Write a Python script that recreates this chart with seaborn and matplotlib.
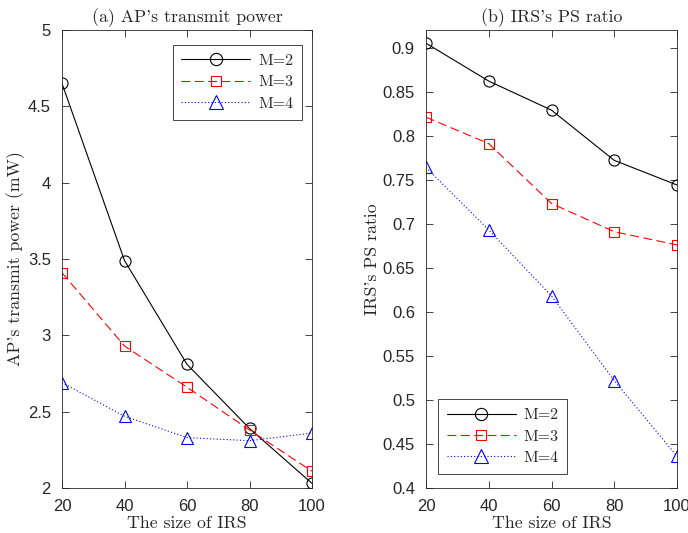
import numpy as np
import pandas as pd
import seaborn as sns
import matplotlib.pyplot as plt

irs_size = [20, 40, 60, 80, 100]
labels = ['M=2', 'M=3', 'M=4']

# (a) AP's transmit power (mW)
power_m2 = [4.65, 3.49, 2.81, 2.39, 2.03]
power_m3 = [3.41, 2.93, 2.66, 2.38, 2.11]
power_m4 = [2.69, 2.47, 2.33, 2.31, 2.36]

# (b) IRS's PS ratio
ratio_m2 = [0.905, 0.862, 0.829, 0.772, 0.744]
ratio_m3 = [0.821, 0.791, 0.723, 0.691, 0.676]
ratio_m4 = [0.764, 0.693, 0.618, 0.522, 0.436]

colors = ['black', 'red', 'blue']
markers = ['o', 's', '^']
msizes = [8, 7, 9]
linestyles = ['-', (0, (8, 4)), (0, (1, 2))]

sns.set_style('ticks')
serif = 'cmr10'
plt.rcParams['font.family'] = ['Liberation Sans', 'DejaVu Sans']
plt.rcParams['axes.edgecolor'] = '#262626'
plt.rcParams['axes.linewidth'] = 0.6


def draw(ax, series, ylim, yticks, ylabel, title, legend_loc, anchor):
    for vals, lab, c, m, ms, ls in zip(series, labels, colors, markers, msizes, linestyles):
        df = pd.DataFrame({'x': irs_size, 'y': vals})
        sns.lineplot(data=df, x='x', y='y', ax=ax, color=c, marker=m, markersize=ms,
                     markerfacecolor='none', markeredgecolor=c, markeredgewidth=0.8,
                     linewidth=0.8, linestyle=ls, label=lab)
    ax.set_xlim(20, 100)
    ax.set_ylim(*ylim)
    ax.set_xticks([20, 40, 60, 80, 100])
    ax.set_yticks(yticks)
    ax.set_yticklabels([('%g' % t) for t in yticks])
    ax.tick_params(direction='in', top=True, right=True, length=5, width=0.6,
                   labelsize=12, colors='#262626', pad=8)
    for s in ax.spines.values():
        s.set_visible(True)
    ax.set_xlabel('The size of IRS', fontsize=12.8, family=serif, labelpad=1)
    ax.set_ylabel(ylabel, fontsize=12.8, family=serif, labelpad=2)
    ax.set_title(title, fontsize=12.8, family=serif, pad=6)
    leg = ax.legend(loc=legend_loc, bbox_to_anchor=anchor, prop={'family': serif, 'size': 11.5},
                    fancybox=False, edgecolor='#262626', framealpha=1, handlelength=4.3,
                    borderpad=0.55, labelspacing=0.45, handletextpad=0.5,
                    borderaxespad=0, markerscale=1.1)
    leg.get_frame().set_linewidth(0.6)


fig = plt.figure(figsize=(6.88, 5.33), dpi=100)
ax1 = fig.add_axes([62 / 688, 45 / 533, 250 / 688, 458 / 533])
ax2 = fig.add_axes([426 / 688, 45 / 533, 251 / 688, 458 / 533])

draw(ax1, [power_m2, power_m3, power_m4], (2, 5), [2, 2.5, 3, 3.5, 4, 4.5, 5],
     "AP's transmit power (mW)", "(a) AP's transmit power", 'upper right', (0.96, 0.967))
draw(ax2, [ratio_m2, ratio_m3, ratio_m4], (0.4, 0.92),
     [0.4, 0.45, 0.5, 0.55, 0.6, 0.65, 0.7, 0.75, 0.8, 0.85, 0.9],
     "IRS's PS ratio", "(b) IRS's PS ratio", 'lower left', (0.048, 0.031))

fig.savefig('out.png', dpi=100)
